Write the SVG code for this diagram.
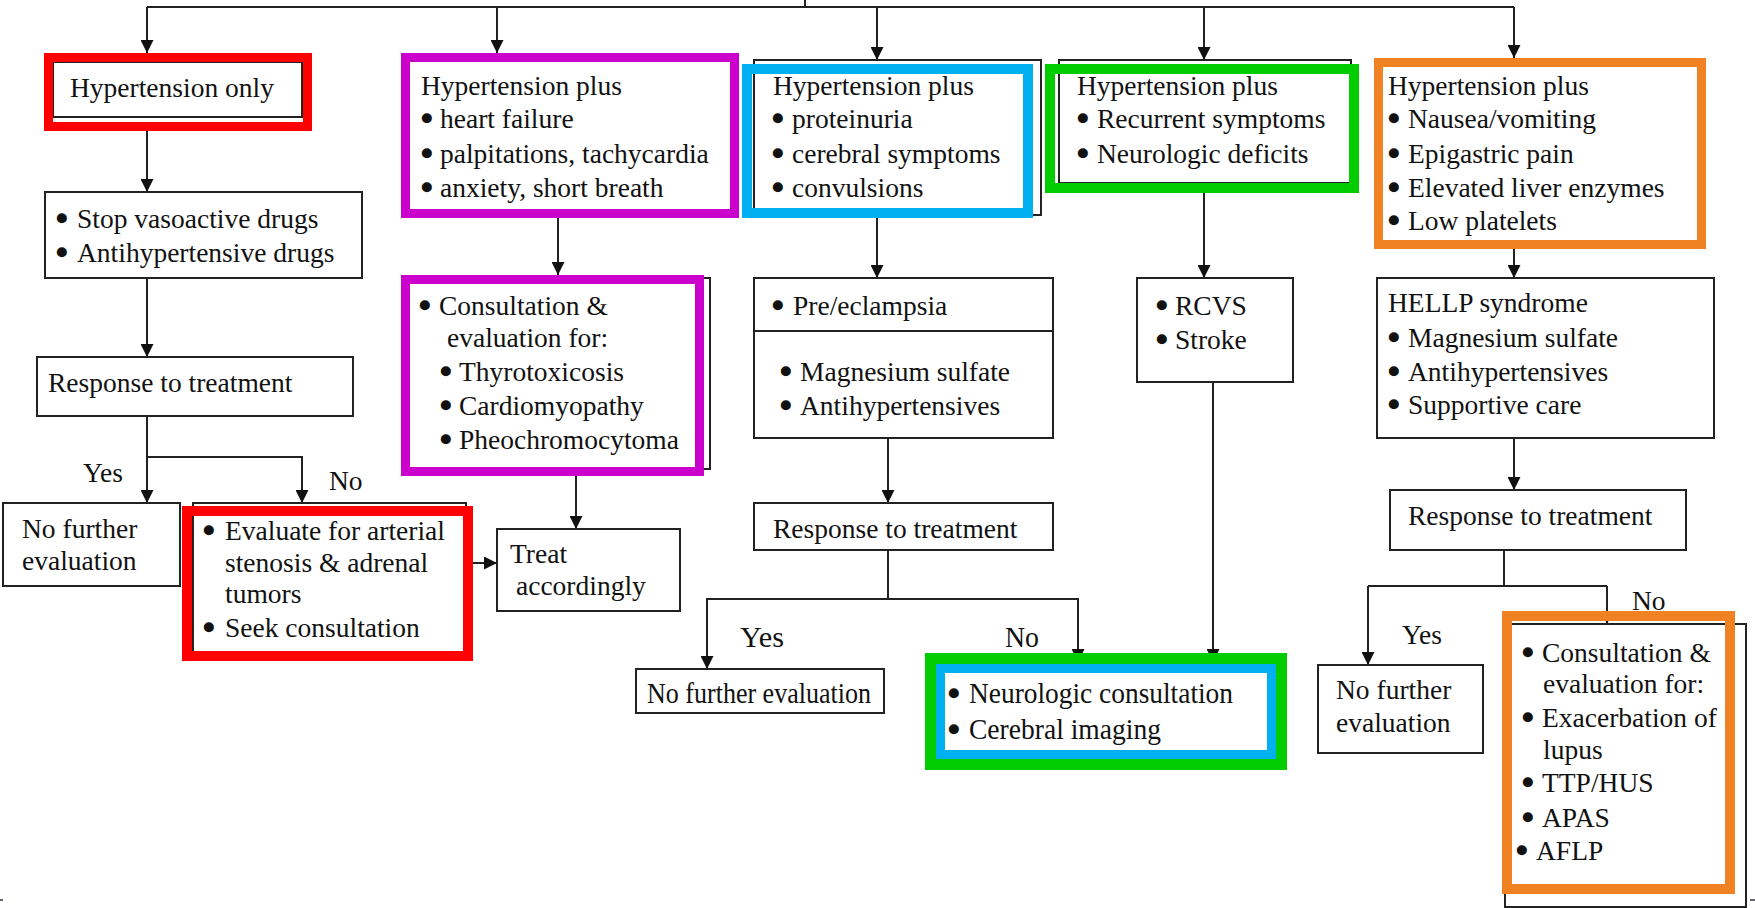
<svg xmlns="http://www.w3.org/2000/svg" width="1755" height="908" viewBox="0 0 1755 908">
  <style>
    .box { fill: #fff; stroke: #222; stroke-width: 2; }
    .ln { fill: none; stroke: #222; stroke-width: 2; }
    .red { fill: none; stroke: #ff0000; }
    .mag { fill: none; stroke: #cc00cc; }
    .blu { fill: none; stroke: #00b0f0; }
    .grn { fill: none; stroke: #00cc00; }
    .org { fill: none; stroke: #f18224; }
    text { font-family: "Liberation Serif", "Times New Roman", serif; font-size: 27.5px; fill: #111; }
    .bl { stroke: #111; stroke-width: 3.5; stroke-linejoin: round; }
    .nar { font-size: 30px; }
  </style>
  <defs>
    <marker id="ah" viewBox="0 0 10 10" refX="10" refY="5" markerWidth="13" markerHeight="13" markerUnits="userSpaceOnUse" orient="auto">
      <path d="M0,0 L10,5 L0,10 z" fill="#111"/>
    </marker>
  </defs>
  <rect width="1755" height="908" fill="#fff"/>

  <!-- connectors -->
  <g id="connectors">
    <path class="ln" d="M805,0 V7 M147,7 H1514"/>
    <path class="ln" d="M147,7 V53" marker-end="url(#ah)"/>
    <path class="ln" d="M497,7 V53" marker-end="url(#ah)"/>
    <path class="ln" d="M877,7 V60" marker-end="url(#ah)"/>
    <path class="ln" d="M1204,7 V60" marker-end="url(#ah)"/>
    <path class="ln" d="M1514,7 V58" marker-end="url(#ah)"/>
    <!-- hypertension only branch -->
    <path class="ln" d="M147,126 V192" marker-end="url(#ah)"/>
    <path class="ln" d="M147,278 V357" marker-end="url(#ah)"/>
    <path class="ln" d="M147,416 V503" marker-end="url(#ah)"/>
    <path class="ln" d="M147,457 H302 V503" marker-end="url(#ah)"/>
    <path class="ln" d="M473,563 H497" marker-end="url(#ah)"/>
    <!-- heart failure branch -->
    <path class="ln" d="M558,218 V275" marker-end="url(#ah)"/>
    <path class="ln" d="M576,476 V529" marker-end="url(#ah)"/>
    <!-- proteinuria branch -->
    <path class="ln" d="M877,218 V278" marker-end="url(#ah)"/>
    <path class="ln" d="M888,438 V503" marker-end="url(#ah)"/>
    <path class="ln" d="M888,550 V599"/>
    <path class="ln" d="M888,599 H707 V669" marker-end="url(#ah)"/>
    <path class="ln" d="M888,599 H1078 V662" marker-end="url(#ah)"/>
    <!-- neurologic branch -->
    <path class="ln" d="M1204,193 V278" marker-end="url(#ah)"/>
    <path class="ln" d="M1213,382 V662" marker-end="url(#ah)"/>
    <!-- HELLP branch -->
    <path class="ln" d="M1514,249 V278" marker-end="url(#ah)"/>
    <path class="ln" d="M1514,438 V490" marker-end="url(#ah)"/>
    <path class="ln" d="M1504,550 V586 M1368,586 H1607"/>
    <path class="ln" d="M1368,586 V665" marker-end="url(#ah)"/>
    <path class="ln" d="M1607,586 V624" marker-end="url(#ah)"/>
    <!-- branch labels -->
    <text x="83" y="482">Yes</text>
    <text x="329" y="490">No</text>
    <text class="nar" x="740" y="647" textLength="44" lengthAdjust="spacingAndGlyphs">Yes</text>
    <text class="nar" x="1005" y="647" textLength="34" lengthAdjust="spacingAndGlyphs">No</text>
    <text x="1402" y="644">Yes</text>
    <text x="1632" y="610">No</text>
  </g>

  <g id="htn-only">
    <rect class="box" x="53" y="62" width="249" height="55"/>
    <rect class="red" stroke-width="9" x="48.5" y="57.5" width="259" height="69"/>
    <text x="70" y="97">Hypertension only</text>
  </g>

  <g id="htn-cardiac">
    <rect class="box" x="406" y="58" width="328" height="155"/>
    <rect class="mag" stroke-width="9" x="405.5" y="57.5" width="329" height="156"/>
    <text x="421" y="95">Hypertension plus</text>
    <text y="128"><tspan class="bl" x="422">•</tspan><tspan x="440">heart failure</tspan></text>
    <text y="163"><tspan class="bl" x="422">•</tspan><tspan x="440">palpitations, tachycardia</tspan></text>
    <text y="197"><tspan class="bl" x="422">•</tspan><tspan x="440">anxiety, short breath</tspan></text>
  </g>

  <g id="htn-cerebral">
    <rect class="box" x="754" y="60" width="287" height="155"/>
    <rect class="blu" stroke-width="10" x="747" y="69" width="281" height="144"/>
    <text x="773" y="95">Hypertension plus</text>
    <text y="128"><tspan class="bl" x="773">•</tspan><tspan x="792">proteinuria</tspan></text>
    <text y="163"><tspan class="bl" x="773">•</tspan><tspan x="792">cerebral symptoms</tspan></text>
    <text y="197"><tspan class="bl" x="773">•</tspan><tspan x="792">convulsions</tspan></text>
  </g>

  <g id="htn-neuro">
    <rect class="box" x="1059" y="60" width="292" height="123"/>
    <rect class="grn" stroke-width="10" x="1050" y="69" width="304" height="119"/>
    <text x="1077" y="95">Hypertension plus</text>
    <text y="128"><tspan class="bl" x="1078">•</tspan><tspan x="1097">Recurrent symptoms</tspan></text>
    <text y="163"><tspan class="bl" x="1078">•</tspan><tspan x="1097">Neurologic deficits</tspan></text>
  </g>

  <g id="htn-hepatic">
    <rect class="box" x="1379" y="63" width="322" height="181"/>
    <rect class="org" stroke-width="9" x="1378.5" y="62.5" width="323" height="182"/>
    <text x="1388" y="95">Hypertension plus</text>
    <text y="128"><tspan class="bl" x="1389">•</tspan><tspan x="1408">Nausea/vomiting</tspan></text>
    <text y="163"><tspan class="bl" x="1389">•</tspan><tspan x="1408">Epigastric pain</tspan></text>
    <text y="197"><tspan class="bl" x="1389">•</tspan><tspan x="1408">Elevated liver enzymes</tspan></text>
    <text y="230"><tspan class="bl" x="1389">•</tspan><tspan x="1408">Low platelets</tspan></text>
  </g>

  <g id="stop-drugs">
    <rect class="box" x="45" y="192" width="317" height="86"/>
    <text y="228"><tspan class="bl" x="57">•</tspan><tspan x="77">Stop vasoactive drugs</tspan></text>
    <text y="262"><tspan class="bl" x="57">•</tspan><tspan x="77">Antihypertensive drugs</tspan></text>
  </g>

  <g id="cardiac-consult">
    <rect class="box" x="402" y="278" width="308" height="191"/>
    <rect class="mag" stroke-width="9" x="405.5" y="279.5" width="294" height="192"/>
    <text y="315"><tspan class="bl" x="420">•</tspan><tspan x="439">Consultation &amp;</tspan></text>
    <text x="447" y="347">evaluation for:</text>
    <text y="381"><tspan class="bl" x="441">•</tspan><tspan x="459">Thyrotoxicosis</tspan></text>
    <text y="415"><tspan class="bl" x="441">•</tspan><tspan x="459">Cardiomyopathy</tspan></text>
    <text y="449"><tspan class="bl" x="441">•</tspan><tspan x="459">Pheochromocytoma</tspan></text>
  </g>

  <g id="preeclampsia">
    <rect class="box" x="754" y="278" width="299" height="160"/>
    <path class="ln" d="M754,331 H1053"/>
    <text y="315"><tspan class="bl" x="773">•</tspan><tspan x="793">Pre/eclampsia</tspan></text>
    <text y="381"><tspan class="bl" x="781">•</tspan><tspan x="800">Magnesium sulfate</tspan></text>
    <text y="415"><tspan class="bl" x="781">•</tspan><tspan x="800">Antihypertensives</tspan></text>
  </g>

  <g id="rcvs">
    <rect class="box" x="1137" y="278" width="156" height="104"/>
    <text y="315"><tspan class="bl" x="1157">•</tspan><tspan x="1175">RCVS</tspan></text>
    <text y="349"><tspan class="bl" x="1157">•</tspan><tspan x="1175">Stroke</tspan></text>
  </g>

  <g id="hellp">
    <rect class="box" x="1377" y="278" width="337" height="160"/>
    <text x="1388" y="312">HELLP syndrome</text>
    <text y="347"><tspan class="bl" x="1389">•</tspan><tspan x="1408">Magnesium sulfate</tspan></text>
    <text y="381"><tspan class="bl" x="1389">•</tspan><tspan x="1408">Antihypertensives</tspan></text>
    <text y="414"><tspan class="bl" x="1389">•</tspan><tspan x="1408">Supportive care</tspan></text>
  </g>

  <g id="response-left">
    <rect class="box" x="37" y="357" width="316" height="59"/>
    <text x="48" y="392">Response to treatment</text>
  </g>

  <g id="response-mid">
    <rect class="box" x="754" y="503" width="299" height="47"/>
    <text x="773" y="538">Response to treatment</text>
  </g>

  <g id="response-right">
    <rect class="box" x="1390" y="490" width="296" height="60"/>
    <text x="1408" y="525">Response to treatment</text>
  </g>

  <g id="no-further-left">
    <rect class="box" x="3" y="503" width="177" height="83"/>
    <text x="22" y="538">No further</text>
    <text x="22" y="570">evaluation</text>
  </g>

  <g id="arterial-eval">
    <rect class="box" x="193" y="503" width="273" height="149"/>
    <rect class="red" stroke-width="10" x="187" y="511" width="281" height="145"/>
    <text y="540"><tspan class="bl" x="204">•</tspan><tspan x="225">Evaluate for arterial</tspan></text>
    <text x="225" y="572">stenosis &amp; adrenal</text>
    <text x="225" y="603">tumors</text>
    <text y="637"><tspan class="bl" x="204">•</tspan><tspan x="225">Seek consultation</tspan></text>
  </g>

  <g id="treat">
    <rect class="box" x="497" y="529" width="183" height="82"/>
    <text x="510" y="563">Treat</text>
    <text x="516" y="595">accordingly</text>
  </g>

  <g id="no-further-mid">
    <rect class="box" x="636" y="669" width="248" height="44"/>
    <text class="nar" x="647" y="703" textLength="224" lengthAdjust="spacingAndGlyphs">No further evaluation</text>
  </g>

  <g id="neuro-consult">
    <rect class="box" x="938" y="662" width="347" height="98"/>
    <rect class="grn" stroke-width="11" x="930.5" y="658.5" width="351" height="106"/>
    <rect class="blu" stroke-width="9" x="940.5" y="668.5" width="331" height="86"/>
    <text y="703"><tspan class="bl" x="949">•</tspan><tspan class="nar" x="969" textLength="264" lengthAdjust="spacingAndGlyphs">Neurologic consultation</tspan></text>
    <text y="739"><tspan class="bl" x="949">•</tspan><tspan class="nar" x="969" textLength="192" lengthAdjust="spacingAndGlyphs">Cerebral imaging</tspan></text>
  </g>

  <g id="no-further-right">
    <rect class="box" x="1318" y="665" width="165" height="88"/>
    <text x="1336" y="699">No further</text>
    <text x="1336" y="732">evaluation</text>
  </g>

  <g id="systemic-consult">
    <rect class="box" x="1505" y="624" width="241" height="283"/>
    <rect class="org" stroke-width="10" x="1507" y="616" width="223" height="273"/>
    <text y="662"><tspan class="bl" x="1523">•</tspan><tspan x="1542">Consultation &amp;</tspan></text>
    <text x="1543" y="693">evaluation for:</text>
    <text y="727"><tspan class="bl" x="1523">•</tspan><tspan x="1542">Exacerbation of</tspan></text>
    <text x="1543" y="759">lupus</text>
    <text y="792"><tspan class="bl" x="1523">•</tspan><tspan x="1542">TTP/HUS</tspan></text>
    <text y="827"><tspan class="bl" x="1523">•</tspan><tspan x="1542">APAS</tspan></text>
    <text y="860"><tspan class="bl" x="1517">•</tspan><tspan x="1536">AFLP</tspan></text>
  </g>

  <!-- edge marks -->
  <path d="M0,900 H3 M1750,900 H1755" stroke="#667" stroke-width="2"/>
</svg>
